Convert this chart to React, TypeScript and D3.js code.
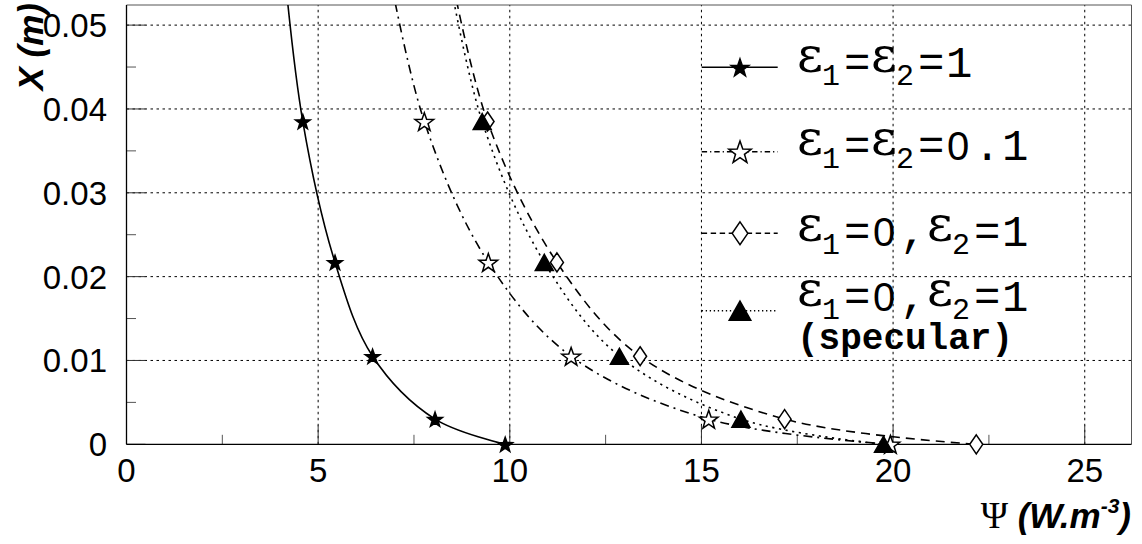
import React from 'react';
import * as d3 from 'd3';

// ---- data ----
const yValues = [0.06, 0.0385, 0.0217, 0.0105, 0.003, 0];
const xBlack = [4.05, 4.6, 5.44, 6.42, 8.05, 9.88];
const xGray01 = [6.7, 7.77, 9.44, 11.6, 15.19, 19.93];
const xDiffuse = [8.3, 9.42, 11.23, 13.4, 17.17, 22.17];
const xSpecular = [8.25, 9.28, 10.9, 12.86, 16.03, 19.75];

const xTicks = [0, 5, 10, 15, 20, 25];
const xTickLabels = ['0', '5', '10', '15', '20', '25'];
const yTicks = [0, 0.01, 0.02, 0.03, 0.04, 0.05];
const yTickLabels = ['0', '0.01', '0.02', '0.03', '0.04', '0.05'];

const legendParts = [
  [['eps', 'ε'], ['sub', '1'], ['m', '='], ['eps', 'ε'], ['sub', '2'], ['m', '='], ['m', '1']],
  [['eps', 'ε'], ['sub', '1'], ['m', '='], ['eps', 'ε'], ['sub', '2'], ['m', '='], ['m', '0'], ['m', '.'], ['m', '1']],
  [['eps', 'ε'], ['sub', '1'], ['m', '='], ['m', '0'], ['m', ','], ['eps', 'ε'], ['sub', '2'], ['m', '='], ['m', '1']],
  [['eps', 'ε'], ['sub', '1'], ['m', '='], ['m', '0'], ['m', ','], ['eps', 'ε'], ['sub', '2'], ['m', '='], ['m', '1']],
];
const legendNote = '(specular)';

const W = 1142, H = 544;
const L = 126.5, R = 1131.5, T = 5, B = 444.3;

const x = d3.scaleLinear().domain([0, 26.22]).range([L, R]);
const y = d3.scaleLinear().domain([0, 0.0524]).range([B, T]);

function starPath(r: number, k = 0.4) {
  const pts: [number, number][] = [];
  for (let i = 0; i < 10; i++) {
    const a = (Math.PI / 5) * i - Math.PI / 2;
    const rr = i % 2 === 0 ? r : r * k;
    pts.push([rr * Math.cos(a), rr * Math.sin(a) + r * 0.1]);
  }
  return 'M' + pts.map(p => p.join(',')).join('L') + 'Z';
}
function diamondPath(w: number, h: number) {
  return `M0,${-h / 2}L${w / 2},0L0,${h / 2}L${-w / 2},0Z`;
}
function trianglePath(w: number, h: number) {
  return `M0,${-h / 2}L${w / 2},${h / 2}L${-w / 2},${h / 2}Z`;
}

type Series = { xs: number[]; dash: string | undefined; marker: (s: number) => string; fill: string };
const series: Series[] = [
  { xs: xBlack, dash: undefined, marker: s => starPath(7.8 * s), fill: '#000' },
  { xs: xGray01, dash: '9,5,2,5', marker: s => starPath(9.8 * s), fill: '#fff' },
  { xs: xDiffuse, dash: '9,6', marker: s => diamondPath(13 * s, 19 * s), fill: '#fff' },
  { xs: xSpecular, dash: '2.2,4.5', marker: s => trianglePath(18 * s, 16 * s), fill: '#000' },
];

const legendLineY = [67.3, 151.7, 233.3, 310.7];
const legendBase = [77, 160, 246, 311];

export default function App() {
  const line = d3
    .line<[number, number]>()
    .x(d => x(d[0]))
    .y(d => y(d[1]))
    .curve(d3.curveCatmullRom.alpha(0.5));

  const sans = 'Liberation Sans, Arial, Helvetica, sans-serif';
  const mono = 'Liberation Mono, Courier New, monospace';

  const minorX = d3.range(2.5, 26.22, 5);
  const minorY = d3.range(0.005, 0.0524, 0.01);

  return (
    <svg width={W} height={H} style={{ position: 'absolute', left: 0, top: 0, background: '#fff' }}>
      <defs>
        <clipPath id="plotclip">
          <rect x={L} y={T} width={R - L} height={B - T} />
        </clipPath>
      </defs>
      <rect x={0} y={0} width={W} height={H} fill="#fff" />
      {/* grid */}
      {xTicks.filter(t => t > 0).map(t => (
        <line key={'gx' + t} x1={x(t)} x2={x(t)} y1={B} y2={T} stroke="#000" strokeWidth={1} strokeDasharray="2.5,3.5" />
      ))}
      {yTicks.filter(t => t > 0).map(t => (
        <line key={'gy' + t} x1={L} x2={R} y1={y(t)} y2={y(t)} stroke="#000" strokeWidth={1} strokeDasharray="2.5,3.5" />
      ))}
      {/* frame */}
      <line x1={L} x2={R} y1={T} y2={T} stroke="#555" strokeWidth={1} />
      <line x1={R} x2={R} y1={T} y2={B} stroke="#555" strokeWidth={1} />
      {/* ticks */}
      {xTicks.map(t => (
        <line key={'tx' + t} x1={x(t)} x2={x(t)} y1={B} y2={B - 19} stroke="#333" strokeWidth={1} />
      ))}
      {minorX.map(t => (
        <line key={'mx' + t} x1={x(t)} x2={x(t)} y1={B} y2={B - 9.5} stroke="#555" strokeWidth={1} />
      ))}
      {yTicks.map(t => (
        <line key={'ty' + t} x1={L} x2={L + 19} y1={y(t)} y2={y(t)} stroke="#333" strokeWidth={1} />
      ))}
      {minorY.map(t => (
        <line key={'my' + t} x1={L} x2={L + 9.5} y1={y(t)} y2={y(t)} stroke="#555" strokeWidth={1} />
      ))}
      <line x1={L} x2={R} y1={B} y2={B} stroke="#000" strokeWidth={1.3} />
      <line x1={L} x2={L} y1={B} y2={T} stroke="#000" strokeWidth={1.3} />
      {/* tick labels */}
      {xTicks.map((t, i) => (
        <text key={'lx' + t} x={x(t)} y={482} textAnchor="middle" fontFamily={sans} fontSize={33}>
          {xTickLabels[i]}
        </text>
      ))}
      {yTicks.map((t, i) => (
        <text key={'ly' + t} x={107} y={y(t) + 12} textAnchor="end" fontFamily={sans} fontSize={33}>
          {yTickLabels[i]}
        </text>
      ))}
      {/* axis titles */}
      <text transform="translate(43,3) rotate(-90)" textAnchor="end" fontFamily={sans} fontSize={35} fontWeight="bold" fontStyle="italic">
        X (m)
      </text>
      <text x={1131} y={528} textAnchor="end" fontFamily={sans} fontSize={35}>
        <tspan fontFamily="Liberation Serif, DejaVu Serif, serif" fontSize={37}>Ψ</tspan>
        <tspan fontWeight="bold" fontStyle="italic"> (W.m</tspan>
        <tspan fontWeight="bold" fontStyle="italic" fontSize={21} dy={-15}>-3</tspan>
        <tspan fontWeight="bold" fontStyle="italic" dy={15}>)</tspan>
      </text>
      {/* series lines */}
      <g clipPath="url(#plotclip)">
        {series.map((s, i) => (
          <path
            key={'s' + i}
            d={line(s.xs.map((v, j) => [v, yValues[j]] as [number, number])) || ''}
            fill="none"
            stroke="#000"
            strokeWidth={1.6}
            strokeDasharray={s.dash}
          />
        ))}
      </g>
      {/* markers */}
      {series.map((s, i) =>
        s.xs.map((v, j) =>
          yValues[j] <= 0.0524 ? (
            <path
              key={'m' + i + '_' + j}
              d={s.marker(1)}
              transform={`translate(${x(v)},${y(yValues[j])})`}
              fill={s.fill}
              stroke="#000"
              strokeWidth={1.5}
              strokeLinejoin="miter"
            />
          ) : null
        )
      )}
      {/* legend */}
      {series.map((s, i) => {
        const ly = legendLineY[i];
        const base = legendBase[i];
        let cx = 797;
        const parts = legendParts[i].map((p, k) => {
          const [kind, t] = p;
          let el;
          if (kind === 'eps') {
            el = (
              <text key={k} x={cx} y={base - 5} fontFamily="DejaVu Serif, serif" fontSize={50}>
                {t}
              </text>
            );
            cx += 25;
          } else if (kind === 'sub') {
            el = (
              <text key={k} x={cx} y={base + 8} fontFamily={mono} fontSize={30}>
                {t}
              </text>
            );
            cx += 21;
          } else if (t === '0') {
            el = (
              <text key={k} x={cx + 2} y={base} fontFamily={sans} fontSize={40}>
                {t}
              </text>
            );
            cx += 28;
          } else {
            el = (
              <text key={k} x={cx + 1} y={base} fontFamily={mono} fontSize={44}>
                {t}
              </text>
            );
            cx += 28;
          }
          return el;
        });
        return (
          <g key={'lg' + i}>
            <line x1={701.7} x2={777.7} y1={ly} y2={ly} stroke="#000" strokeWidth={1.6} strokeDasharray={s.dash ? s.dash.split(',').map(v => +v * 0.6).join(',') : undefined} />
            <path d={s.marker(1.2)} transform={`translate(740,${ly})`} fill={s.fill} stroke="#000" strokeWidth={1.5} />
            {parts}
          </g>
        );
      })}
      <text x={797} y={349} fontFamily={mono} fontSize={36} fontWeight="bold">
        {legendNote}
      </text>
    </svg>
  );
}
